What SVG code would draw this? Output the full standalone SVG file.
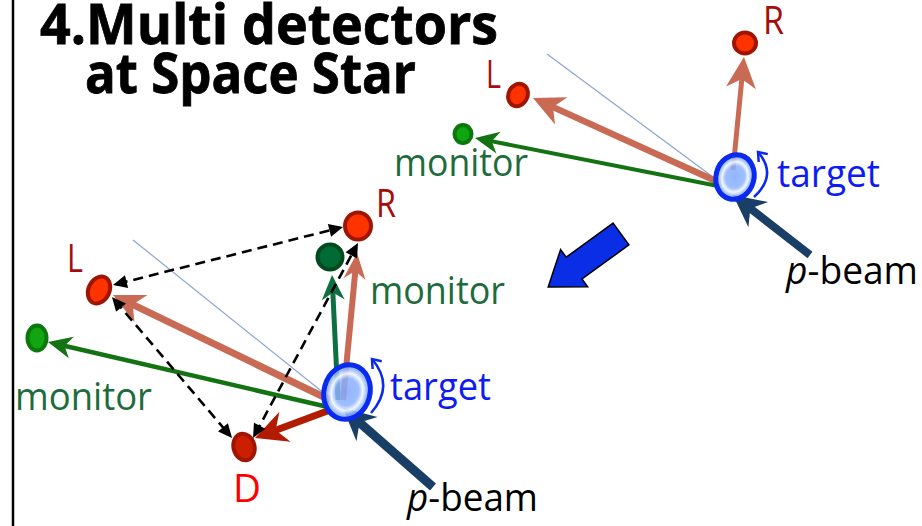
<svg xmlns="http://www.w3.org/2000/svg" width="922" height="526" viewBox="0 0 922 526">
<style>
.title{font-family:"Open Sans","Liberation Sans",sans-serif;font-weight:bold;font-size:55px;fill:#000;stroke:#000;stroke-width:0.8}
.lbl{font-family:"Open Sans","Liberation Sans",sans-serif;font-size:38px}
.tgt{fill:#0d1cf2}
.mon{fill:#1e6b3c}
.lr{fill:#a50d0d}
.beam{fill:#000}
.rnode{fill:#ff3300;stroke:#a01500;stroke-width:4}
.dnode{fill:#cc1f00;stroke:#a01500;stroke-width:4}
.gnode{fill:#11a511;stroke:#0b780b;stroke-width:4}
.dgnode{fill:#006b35;stroke:#004a1e;stroke-width:4}
.target{fill:url(#tgGrad);stroke:#0a2af0;stroke-width:5}
.sal{stroke:#c96a55;fill:none}
.grn{stroke:#137313;fill:none}
.teal{stroke:#0e7040;fill:none}
.red{stroke:#b31b00;fill:none}
.navy{stroke:#1a3f66;fill:none}
.thin{stroke:#8aa6d2;stroke-width:1.2;fill:none}
.dash{stroke:#000;stroke-width:2.6;stroke-dasharray:10 6;fill:none;marker-start:url(#hBlk);marker-end:url(#hBlk)}
.curl{stroke:#0a2af0;stroke-width:2.5;fill:none;marker-end:url(#hBlue)}
</style>
<defs>
<radialGradient id="tgGrad" cx="0.5" cy="0.5" r="0.5">
<stop offset="0" stop-color="#7ea8ff" stop-opacity="0.85"/>
<stop offset="0.5" stop-color="#8db3ff" stop-opacity="0.85"/>
<stop offset="0.68" stop-color="#f4f8ff" stop-opacity="0.95"/>
<stop offset="0.84" stop-color="#90b6ff" stop-opacity="0.85"/>
<stop offset="1" stop-color="#6f9cff" stop-opacity="0.85"/>
</radialGradient>
<marker id="hSalL" markerUnits="userSpaceOnUse" markerWidth="40" markerHeight="40" viewBox="0 -20 40 40" refX="21" refY="0" orient="auto" overflow="visible"><path d="M0,-15 L31,0 L0,15 L9,0 z" fill="#c96a55"/></marker>
<marker id="hSalS" markerUnits="userSpaceOnUse" markerWidth="40" markerHeight="40" viewBox="0 -20 40 40" refX="16" refY="0" orient="auto" overflow="visible"><path d="M0,-11 L26,0 L0,11 L8,0 z" fill="#c96a55"/></marker>
<marker id="hGrn" markerUnits="userSpaceOnUse" markerWidth="40" markerHeight="40" viewBox="0 -20 40 40" refX="14" refY="0" orient="auto" overflow="visible"><path d="M0,-11 L24,0 L0,11 L7,0 z" fill="#137313"/></marker>
<marker id="hTeal" markerUnits="userSpaceOnUse" markerWidth="40" markerHeight="40" viewBox="0 -20 40 40" refX="15" refY="0" orient="auto" overflow="visible"><path d="M0,-11.5 L25,0 L0,11.5 L7.5,0 z" fill="#0e7040"/></marker>
<marker id="hRed" markerUnits="userSpaceOnUse" markerWidth="40" markerHeight="40" viewBox="0 -20 40 40" refX="22" refY="0" orient="auto" overflow="visible"><path d="M0,-16 L32,0 L0,16 L10,0 z" fill="#b31b00"/></marker>
<marker id="hNavy" markerUnits="userSpaceOnUse" markerWidth="40" markerHeight="40" viewBox="0 -20 40 40" refX="22" refY="0" orient="auto" overflow="visible"><path d="M0,-16 L32,0 L0,16 L10,0 z" fill="#1a3f66"/></marker>
<marker id="hBlk" markerUnits="userSpaceOnUse" markerWidth="20" markerHeight="20" viewBox="0 -10 20 20" refX="9" refY="0" orient="auto-start-reverse" overflow="visible"><path d="M0,-6.5 L14,0 L0,6.5 z" fill="#000"/></marker>
<marker id="hBlue" markerUnits="userSpaceOnUse" markerWidth="20" markerHeight="20" viewBox="-10 -10 20 20" refX="0" refY="0" orient="auto" overflow="visible"><path d="M-8,-6 L0,0 L-8,6" fill="none" stroke="#0a2af0" stroke-width="2.5"/></marker>
</defs>
<rect width="922" height="526" fill="#fff"/>
<line x1="13" y1="0" x2="13" y2="526" stroke="#000" stroke-width="2.5"/>
<g id="title">
<text class="title" x="40" y="44" textLength="458" lengthAdjust="spacingAndGlyphs">4.Multi detectors</text>
<text class="title" x="85" y="93" textLength="331" lengthAdjust="spacingAndGlyphs">at Space Star</text>
</g>
<g id="connectors">
<!-- upper diagram -->
<line class="thin" x1="547" y1="54" x2="717" y2="180"/>
<line class="sal" stroke-width="5" x1="733" y1="170" x2="743" y2="67" marker-end="url(#hSalL)"/>
<line class="sal" stroke-width="6.5" x1="718" y1="182" x2="542.1" y2="102.1" marker-end="url(#hSalL)"/>
<line class="grn" stroke-width="4" x1="718" y1="186" x2="484.8" y2="139.9" marker-end="url(#hGrn)"/>
<line class="navy" stroke-width="8" x1="810" y1="255" x2="740.9" y2="201.1" marker-end="url(#hNavy)"/>
<!-- lower diagram -->
<line class="thin" x1="133" y1="240" x2="330" y2="398"/>
<line class="sal" stroke-width="7" x1="330" y1="400" x2="122" y2="299.4" marker-end="url(#hSalL)"/>
<line class="grn" stroke-width="4.5" x1="328" y1="407" x2="57.7" y2="344.3" marker-end="url(#hGrn)"/>
<line class="red" stroke-width="7" x1="330" y1="410" x2="264.4" y2="434.5" marker-end="url(#hRed)"/>
<line class="teal" stroke-width="5" x1="338" y1="400" x2="332.5" y2="285" marker-end="url(#hTeal)"/>
<line class="sal" stroke-width="6" x1="343" y1="400" x2="356.1" y2="263" marker-end="url(#hSalS)"/>
<line class="dash" x1="117.8" y1="283.8" x2="338.2" y2="228.2"/>
<line class="dash" x1="115.2" y1="300.8" x2="228.8" y2="434.2"/>
<line class="dash" x1="255.4" y1="433.6" x2="355.6" y2="247.4"/>
<line class="navy" stroke-width="9" x1="433" y1="487" x2="350.5" y2="414.6" marker-end="url(#hNavy)"/>
</g>
<g id="upper-R">
<ellipse class="rnode" cx="745" cy="43" rx="11" ry="10.5"/>
<text class="lbl lr" x="763" y="34" textLength="21" lengthAdjust="spacingAndGlyphs">R</text>
</g>
<g id="upper-L">
<ellipse class="rnode" cx="518" cy="95" rx="9.5" ry="11.5" transform="rotate(25 518 95)"/>
<text class="lbl lr" x="486" y="88" textLength="15" lengthAdjust="spacingAndGlyphs">L</text>
</g>
<g id="upper-monitor">
<ellipse class="gnode" cx="463" cy="134" rx="8.5" ry="9"/>
<text class="lbl mon" x="394" y="176" textLength="134" lengthAdjust="spacingAndGlyphs">monitor</text>
</g>
<g id="upper-target">
<ellipse class="target" stroke-width="4.5" cx="735" cy="177" rx="19" ry="22.5" transform="rotate(15 735 177)"/>
<path class="curl" d="M754,197 Q778,175 758,152"/>
<text class="lbl tgt" x="777" y="187" textLength="103" lengthAdjust="spacingAndGlyphs">target</text>
</g>
<g id="upper-beam">
<text class="lbl beam" x="786" y="284" textLength="132" lengthAdjust="spacingAndGlyphs"><tspan font-style="italic">p</tspan>-beam</text>
</g>
<g id="transition-arrow">
<polygon points="613.1,223.1 628.9,244.9 582,279 587.6,286.7 548.2,286.9 560.6,249.5 566.2,257.2" fill="#0a2ee6" stroke="#000" stroke-width="1.5" stroke-linejoin="miter"/>
</g>
<g id="lower-L">
<ellipse class="rnode" cx="99" cy="290" rx="10.5" ry="14" transform="rotate(25 99 290)"/>
<text class="lbl lr" x="67" y="272" font-size="39" textLength="16" lengthAdjust="spacingAndGlyphs">L</text>
</g>
<g id="lower-R">
<ellipse class="rnode" cx="358" cy="226" rx="13" ry="13.5"/>
<text class="lbl lr" x="376" y="217" textLength="20" lengthAdjust="spacingAndGlyphs">R</text>
</g>
<g id="lower-monitor-left">
<ellipse class="gnode" cx="37" cy="338" rx="9.5" ry="12.5"/>
<text class="lbl mon" x="15" y="410" textLength="137" lengthAdjust="spacingAndGlyphs">monitor</text>
</g>
<g id="lower-monitor-right">
<ellipse class="dgnode" cx="330" cy="257" rx="12.5" ry="12.5"/>
<text class="lbl mon" x="370" y="304" textLength="135" lengthAdjust="spacingAndGlyphs">monitor</text>
</g>
<g id="lower-D">
<ellipse class="dnode" cx="244" cy="447" rx="10.5" ry="13.5" transform="rotate(-15 244 447)"/>
<text class="lbl" x="233" y="502" font-size="45" textLength="28" lengthAdjust="spacingAndGlyphs" fill="#ff0000">D</text>
</g>
<g id="lower-target">
<ellipse class="target" cx="347" cy="392" rx="23" ry="27.5" transform="rotate(15 347 392)"/>
<path class="curl" d="M371,413 Q395,386 372,359"/>
<text class="lbl tgt" x="390" y="400" textLength="101" lengthAdjust="spacingAndGlyphs">target</text>
</g>
<g id="lower-beam">
<text class="lbl beam" x="407" y="511" textLength="131" lengthAdjust="spacingAndGlyphs"><tspan font-style="italic">p</tspan>-beam</text>
</g>
</svg>
